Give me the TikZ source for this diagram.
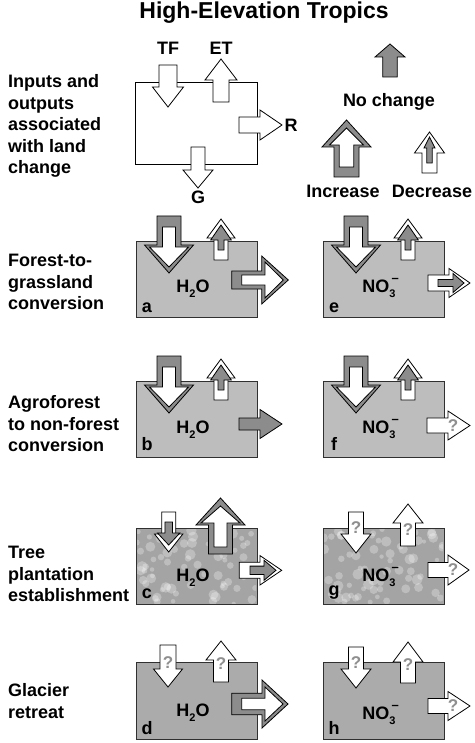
\documentclass[tikz,border=0pt]{standalone}
\usepackage{fontspec}
\setmainfont{Liberation Sans}
\definecolor{arrgray}{HTML}{8C8C8C}
\definecolor{boxA}{HTML}{BDBDBD}
\definecolor{boxC}{HTML}{A4A4A4}
\definecolor{boxD}{HTML}{ABABAB}
\definecolor{qgray}{HTML}{8F8F8F}
\definecolor{edge}{HTML}{303030}
% vertical arrow: style, cx, base y, shaft half, head-base y, head half, tip y
\newcommand\ArrV[7]{\draw[#1] ({#2-#4},#3) -- ({#2+#4},#3) -- ({#2+#4},#5) -- ({#2+#6},#5) -- (#2,#7) -- ({#2-#6},#5) -- ({#2-#4},#5) -- cycle;}
% horizontal arrow: style, cy, base x, shaft half, head-base x, head half, tip x
\newcommand\ArrH[7]{\draw[#1] (#3,{#2-#4}) -- (#5,{#2-#4}) -- (#5,{#2-#6}) -- (#7,#2) -- (#5,{#2+#6}) -- (#5,{#2+#4}) -- (#3,{#2+#4}) -- cycle;}
\newcommand\TFinc{\ArrV{ga}{169}{216}{12}{245}{24.5}{273}\ArrV{wa}{169}{227}{6.5}{247}{19.5}{267}}
\newcommand\ETdec{\ArrV{wa}{221}{260}{7}{238}{14}{219}\ArrV{ga}{221}{250}{3}{240}{10.3}{225}}
\newcommand\nothree{NO\rlap{\raisebox{0.55em}{\fontsize{13}{13}\selectfont\,–}}\raisebox{-0.3em}{\fontsize{11}{11}\selectfont 3}}
\newcommand\htwoo{H\raisebox{-0.3em}{\fontsize{11}{11}\selectfont 2}O}
% mottled texture inside a box: x0, y0 (top-left)
\newcommand\Mottle[2]{\begin{scope}\clip (#1+1,#2+1) rectangle (#1+120,#2+75);
  \foreach \i in {1,...,70}{\pgfmathsetmacro\xx{#1+121*rnd}\pgfmathsetmacro\yy{#2+76*rnd}\pgfmathsetmacro\rr{2+3.5*rnd}
    \fill[white,opacity=0.28] (\xx,\yy) circle[radius=\rr];}\end{scope}}
\begin{document}
\begin{tikzpicture}[x=1pt,y=-1pt,
  wa/.style={fill=white,draw=black,line width=0.8pt,line join=miter},
  ga/.style={fill=arrgray,draw=black,line width=0.8pt,line join=miter},
  txt/.style={font=\fontsize{18}{21.5}\selectfont\bfseries,inner sep=0pt},
  side/.style={txt,align=left,anchor=west},
  qm/.style={font=\fontsize{17}{17}\selectfont\bfseries,text=qgray,inner sep=0pt},
  panel/.style={draw=edge,line width=1pt,minimum width=121pt,inner sep=0pt,anchor=north west},
  plab/.style={txt}]
\pgfmathsetseed{7}
\useasboundingbox (0,0) rectangle (474,743);
% title
\node[font=\fontsize{23}{23}\selectfont\bfseries,inner sep=0pt,anchor=base] (title) at (264,19) {High-Elevation Tropics};
% side labels
\node[side] (s0) at (8,126) {Inputs and\\outputs\\associated\\with land\\change};
\node[side] (s1) at (8,282) {Forest-to-\\grassland\\conversion};
\node[side] (s2) at (8,424) {Agroforest\\to non-forest\\conversion};
\node[side] (s3) at (8,574) {Tree\\plantation\\establishment};
\node[side] (s4) at (8,701) {Glacier\\retreat};
% legend box
\node[panel,draw=black,line width=1.2pt,fill=white,minimum width=122pt,minimum height=82pt] (leg) at (135,82) {};
\ArrV{wa}{168}{65}{9}{87}{15.5}{107}
\ArrV{wa}{221}{102}{8}{80}{16}{59}
\ArrH{wa}{125}{239}{8}{260}{15}{282}
\ArrV{wa}{198}{147}{7}{170}{15}{188}
\node[txt,anchor=base] (tf) at (168,55) {TF};
\node[txt,anchor=base] (et) at (221,55) {ET};
\node[txt,anchor=base] (rr) at (291,132) {R};
\node[txt,anchor=base] (gg) at (198,204) {G};
% legend keys
\ArrV{ga}{390}{77}{7.3}{57}{15}{44}
\node[txt,anchor=base] (nc) at (389,107) {No change};
\ArrV{ga}{346.5}{177}{12.5}{147}{24.5}{120}
\ArrV{wa}{346.5}{167}{7.3}{145}{17}{128}
\node[txt,anchor=base] (inc) at (343,198) {Increase};
\ArrV{wa}{429.5}{173}{7.5}{153}{15}{132}
\ArrV{ga}{429.5}{163}{2.7}{148}{5.5}{137}
\node[txt,anchor=base] (dec) at (432,198) {Decrease};
% ---- panels ----
\node[panel,fill=boxA,minimum height=76pt] (pa) at (136,241) {};
\node[panel,fill=boxA,minimum height=76pt] (pe) at (323,241) {};
\node[panel,fill=boxA,minimum height=76pt] (pb) at (136,381) {};
\node[panel,fill=boxA,minimum height=76pt] (pf) at (323,381) {};
\node[panel,fill=boxC,minimum height=76pt] (pc) at (136,528) {};
\node[panel,fill=boxC,minimum height=76pt] (pg) at (323,528) {};
\node[panel,fill=boxD,minimum height=77pt] (pd) at (136,662) {};
\node[panel,fill=boxD,minimum height=77pt] (ph) at (323,662) {};
\Mottle{136}{528}
\Mottle{323}{528}
% row 1 and 2 TF / ET
\TFinc \ETdec
\begin{scope}[shift={(187,0)}]\TFinc \ETdec\end{scope}
\begin{scope}[shift={(0,140)}]\TFinc \ETdec\end{scope}
\begin{scope}[shift={(187,140)}]\TFinc \ETdec\end{scope}
% a: R increase
\ArrH{ga}{280}{231.7}{9}{261.7}{24}{288.3}
\ArrH{wa}{280}{241.7}{5}{265}{18}{283.3}
% e: R decrease
\ArrH{wa}{283}{428}{8}{449}{14.5}{470}
\ArrH{ga}{283}{438}{3.5}{453}{9.5}{464}
% b: R no change
\ArrH{ga}{424}{239}{6}{260}{14.5}{282}
% f: R ?
\ArrH{wa}{425.5}{427}{7.5}{448}{14.5}{470}
\node[qm] (qf) at (453,426) {?};
% c
\ArrV{wa}{168.7}{512}{7}{534}{14.2}{552}
\ArrV{ga}{168.7}{522}{3.8}{533}{11.2}{545}
\ArrV{ga}{220.5}{554}{12}{525}{24.5}{498}
\ArrV{wa}{220.5}{547}{6.5}{523}{19.5}{506}
\ArrH{wa}{570.3}{239.3}{8}{260}{14.7}{281.7}
\ArrH{ga}{570.3}{250}{4.2}{264}{10}{276}
% g
\ArrV{wa}{356}{512}{7.5}{534}{15}{553}
\node[qm] (qg1) at (356,528) {?};
\ArrV{wa}{408}{546}{7.5}{523}{15}{504}
\node[qm] (qg2) at (408,530) {?};
\ArrH{wa}{570}{428}{7.5}{448}{15}{469}
\node[qm] (qg3) at (453,570) {?};
% d
\ArrV{wa}{168}{645}{8}{669}{14.5}{687}
\node[qm] (qd1) at (168,663) {?};
\ArrV{wa}{221}{682}{7.5}{660}{15}{641}
\node[qm] (qd2) at (221,664) {?};
\ArrH{ga}{704}{231.7}{10.8}{262}{24}{288}
\ArrH{wa}{704}{241.7}{5.8}{265}{17}{283}
% h
\ArrV{wa}{356}{647}{7.5}{669}{15}{688}
\node[qm] (qh1) at (356,663) {?};
\ArrV{wa}{408}{683}{7.5}{662}{15}{642}
\node[qm] (qh2) at (408,665) {?};
\ArrH{wa}{706}{428}{7.5}{448}{14.5}{470}
\node[qm] (qh3) at (453,706) {?};
% panel texts
\node[txt,anchor=base] (ta) at (193,292) {\htwoo};
\node[txt,anchor=base] (tb) at (193,433) {\htwoo};
\node[txt,anchor=base] (tc) at (193,581) {\htwoo};
\node[txt,anchor=base] (td) at (193,716) {\htwoo};
\node[txt,anchor=base] (te) at (379,292) {\nothree};
\node[txt,anchor=base] (tff) at (379,433) {\nothree};
\node[txt,anchor=base] (tg) at (379,581) {\nothree};
\node[txt,anchor=base] (th) at (379,719) {\nothree};
\node[plab] (la) at (147,308) {a};
\node[plab] (lb) at (147,444) {b};
\node[plab] (lc) at (147,594) {c};
\node[plab] (ld) at (147,728) {d};
\node[plab] (le) at (334,308) {e};
\node[plab] (lf) at (334,444) {f};
\node[plab] (lg) at (334,593) {g};
\node[plab] (lh) at (334,728) {h};
\end{tikzpicture}
\end{document}
